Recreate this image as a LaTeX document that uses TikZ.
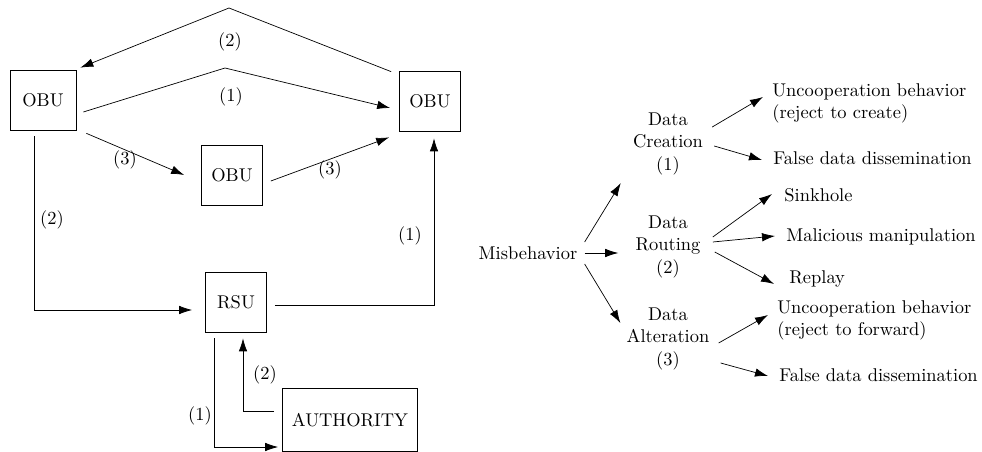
\documentclass[tikz,border=0pt]{standalone}
\usetikzlibrary{arrows.meta}

\begin{document}
\begin{tikzpicture}[x=0.02cm,y=-0.02cm,
  every node/.style={font=\fontsize{10.5}{12.6}\selectfont},
  unit/.style={draw,minimum width=1.22cm,minimum height=1.2cm},
  tag/.style={inner sep=1pt},
  stage/.style={align=center,inner sep=0pt},
  leaf/.style={anchor=west,align=left,inner sep=0pt},
  arr/.style={-{Latex[length=2.6mm,width=1.7mm]}}]
\useasboundingbox (0,0) rectangle (982,452);
% network side
\node[unit,minimum width=1.32cm] (obuA) at (43,100) {OBU};
\node[unit] (obuB) at (430,101) {OBU};
\node[unit] (obuC) at (232,175) {OBU};
\node[unit] (rsu) at (236,302) {RSU};
\node[unit,minimum width=2.7cm,minimum height=1.26cm] (auth) at (350,420) {AUTHORITY};
\coordinate (apexB) at (229,8);
\coordinate (apexA) at (225,68);
\node[tag] (l2top) at (230,42) {(2)};
\node[tag] (l1top) at (231,97) {(1)};
\node[tag] (l3a) at (125,160) {(3)};
\node[tag] (l3b) at (330,170) {(3)};
\node[tag] (l2left) at (52,220) {(2)};
\node[tag] (l1right) at (410,236) {(1)};
\node[tag] (l1bot) at (200,416) {(1)};
\node[tag] (l2bot) at (265,375) {(2)};
\draw[arr] ([shift={(-8,1)}]obuB.north west) -- (apexB) -- ([shift={(4,-2)}]obuA.north east);
\draw[arr] ([shift={(7,12)}]obuA.east) -- (apexA) -- ([shift={(-9,7)}]obuB.west);
\draw[arr] ([shift={(10,3)}]obuA.south east) -- ([shift={(-17,0)}]obuC.west);
\draw[arr] ([shift={(8,6)}]obuC.east) -- ([shift={(-10,6)}]obuB.south west);
\draw[arr] ([shift={(-9,6)}]obuA.south) |- ([shift={(-13,8)}]rsu.west);
\draw[arr] ([shift={(8,3)}]rsu.east) -| ([shift={(4,7)}]obuB.south);
\draw[arr] ([shift={(-22,6)}]rsu.south) |- ([shift={(-4,27)}]auth.west);
\draw[arr] ([shift={(-8,-9)}]auth.west) -| ([shift={(7,6)}]rsu.south);
% misbehavior tree
\node[stage] (mis) at (528,253) {Misbehavior};
\node[stage] (crea) at (668,144) {Data\\Creation\\(1)};
\node[stage] (rout) at (668,247) {Data\\Routing\\(2)};
\node[stage] (alter) at (668,339) {Data\\Alteration\\(3)};
\node[leaf] (uc1) at (772,103) {Uncooperation behavior\\(reject to create)};
\node[leaf] (fd1) at (773,158) {False data dissemination};
\node[leaf] (sink) at (784,195) {Sinkhole};
\node[leaf] (mal) at (786,237) {Malicious manipulation};
\node[leaf] (rep) at (789,279) {Replay};
\node[leaf] (uc3) at (777,320) {Uncooperation behavior\\(reject to forward)};
\node[leaf] (fd3) at (779,375) {False data dissemination};
\draw[arr] ([shift={(7,-11)}]mis.east) -- ([shift={(-12,8)}]crea.south west);
\draw[arr] ([shift={(7,0)}]mis.east) -- ([shift={(-17,6)}]rout.west);
\draw[arr] ([shift={(7,11)}]mis.east) -- ([shift={(-6,-16)}]alter.west);
\draw[arr] ([shift={(9,-17)}]crea.east) -- ([shift={(-9,-6)}]uc1.west);
\draw[arr] ([shift={(11,2)}]crea.east) -- ([shift={(-11,2)}]fd1.west);
\draw[arr] ([shift={(12,-10)}]rout.east) -- ([shift={(-12,-1)}]sink.west);
\draw[arr] ([shift={(12,-5)}]rout.east) -- ([shift={(-11,-1)}]mal.west);
\draw[arr] ([shift={(14,5)}]rout.east) -- ([shift={(-15,5)}]rep.west);
\draw[arr] ([shift={(9,4)}]alter.east) -- ([shift={(-9,-5)}]uc3.west);
\draw[arr] ([shift={(11,24)}]alter.east) -- ([shift={(-11,1)}]fd3.west);
\end{tikzpicture}
\end{document}
